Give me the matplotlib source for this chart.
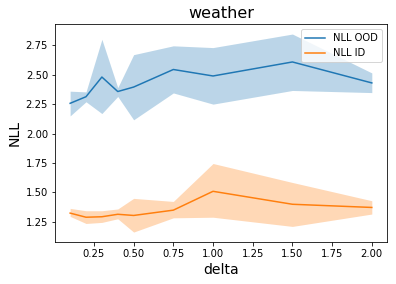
import matplotlib
matplotlib.use('Agg')
import matplotlib.pyplot as plt
import numpy as np

delta = [0.1, 0.2, 0.3, 0.4, 0.5, 0.75, 1.0, 1.5, 2.0]

ood_mean = [2.257, 2.313, 2.48, 2.357, 2.395, 2.544, 2.489, 2.608, 2.43]
ood_upper = [2.36, 2.354, 2.80, 2.39, 2.67, 2.745, 2.73, 2.845, 2.515]
ood_lower = [2.15, 2.27, 2.17, 2.315, 2.117, 2.345, 2.25, 2.366, 2.348]

id_mean = [1.325, 1.29, 1.294, 1.315, 1.305, 1.35, 1.51, 1.40, 1.373]
id_upper = [1.365, 1.345, 1.345, 1.36, 1.45, 1.424, 1.746, 1.585, 1.43]
id_lower = [1.297, 1.237, 1.246, 1.277, 1.164, 1.285, 1.29, 1.212, 1.317]

fig, ax = plt.subplots(figsize=(396 / 72, 284 / 72), dpi=72)
fig.subplots_adjust(left=0.139, right=0.977, bottom=0.148, top=0.915)

ax.plot(delta, ood_mean, color='C0', label='NLL OOD')
ax.fill_between(delta, ood_lower, ood_upper, color='C0', alpha=0.3, linewidth=0)
ax.plot(delta, id_mean, color='C1', label='NLL ID')
ax.fill_between(delta, id_lower, id_upper, color='C1', alpha=0.3, linewidth=0)

ax.set_title('weather', fontsize=16)
ax.set_xlabel('delta', fontsize=14)
ax.set_ylabel('NLL', fontsize=14)
ax.set_xticks([0.25, 0.5, 0.75, 1.0, 1.25, 1.5, 1.75, 2.0])
ax.set_yticks([1.25, 1.5, 1.75, 2.0, 2.25, 2.5, 2.75])
ax.legend(loc='upper right')

fig.savefig('out.png', dpi=72)
